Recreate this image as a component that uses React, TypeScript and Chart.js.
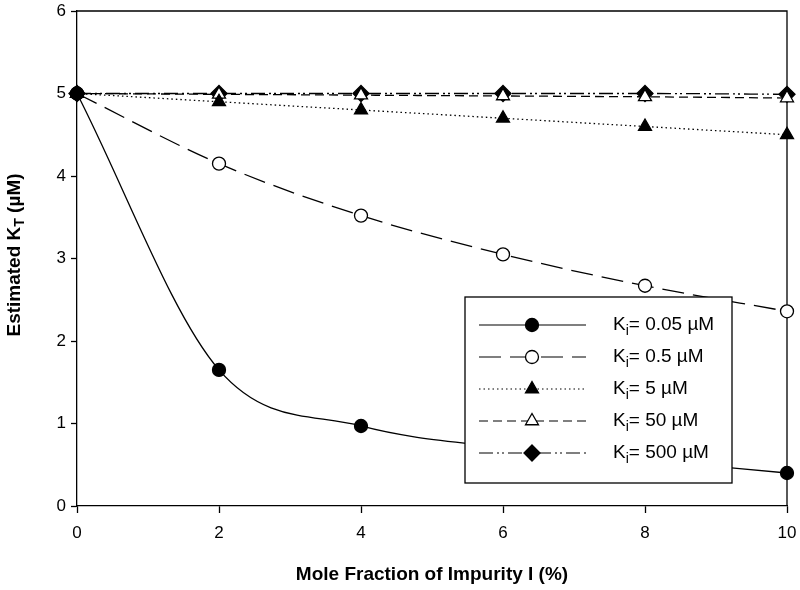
import React, { useEffect, useRef } from "react";
import { Chart, registerables } from "chart.js";

Chart.register(...registerables);

const xValues = [0, 2, 4, 6, 8, 10];
const ki005 = [5, 1.65, 0.97, 0.71, 0.56, 0.4];
const ki05 = [5, 4.15, 3.52, 3.05, 2.67, 2.36];
const ki5 = [5, 4.9, 4.8, 4.7, 4.6, 4.5];
const ki50 = [5, 4.99, 4.98, 4.97, 4.96, 4.945];
const ki500 = [5, 5, 5, 5, 5, 4.99];
const kiLabels = ["0.05", "0.5", "5", "50", "500"];
const xTicks = [0, 2, 4, 6, 8, 10];
const yTicks = [0, 1, 2, 3, 4, 5, 6];

const FONT = "'Liberation Sans', Arial, sans-serif";

type Marker = { style: string; fill: boolean; r: number; dash: number[] };
const markers: Marker[] = [
  { style: "circle", fill: true, r: 6.5, dash: [] },
  { style: "circle", fill: false, r: 6.5, dash: [22, 9] },
  { style: "triangle", fill: true, r: 7.5, dash: [1.5, 3] },
  { style: "triangle", fill: false, r: 7.5, dash: [9, 5] },
  { style: "rectRot", fill: true, r: 8, dash: [14, 4, 2, 3, 2, 4] },
];

function drawMarker(ctx: CanvasRenderingContext2D, m: Marker, x: number, y: number) {
  ctx.save();
  ctx.setLineDash([]);
  ctx.beginPath();
  const r = m.r;
  if (m.style === "circle") {
    ctx.arc(x, y, r, 0, Math.PI * 2);
  } else if (m.style === "triangle") {
    for (let i = 0; i < 3; i++) {
      const a = (i * 2 * Math.PI) / 3;
      const px = x + Math.sin(a) * r;
      const py = y - Math.cos(a) * r;
      if (i === 0) ctx.moveTo(px, py);
      else ctx.lineTo(px, py);
    }
  } else {
    ctx.moveTo(x, y - r);
    ctx.lineTo(x + r, y);
    ctx.lineTo(x, y + r);
    ctx.lineTo(x - r, y);
  }
  ctx.closePath();
  ctx.fillStyle = m.fill ? "#000" : "#fff";
  ctx.fill();
  ctx.lineWidth = 1.3;
  ctx.strokeStyle = "#000";
  ctx.stroke();
  ctx.restore();
}

const decorPlugin = {
  id: "decor",
  beforeDatasetsDraw(chart: any) {
    const { ctx, chartArea } = chart;
    ctx.save();
    ctx.strokeStyle = "#000";
    ctx.lineWidth = 1.3;
    ctx.beginPath();
    ctx.moveTo(chartArea.left, chartArea.top);
    ctx.lineTo(chartArea.right, chartArea.top);
    ctx.lineTo(chartArea.right, chartArea.bottom);
    ctx.stroke();
    ctx.restore();
  },
  afterDraw(chart: any) {
    const { ctx } = chart;
    // y-axis title with subscript
    ctx.save();
    ctx.translate(15, 255);
    ctx.rotate(-Math.PI / 2);
    ctx.fillStyle = "#000";
    ctx.textBaseline = "middle";
    const big = `bold 19px ${FONT}`;
    const small = `bold 14px ${FONT}`;
    const p1 = "Estimated K";
    const p2 = "T";
    const p3 = " (\u00B5M)";
    ctx.font = big;
    const w1 = ctx.measureText(p1).width;
    const w3 = ctx.measureText(p3).width;
    ctx.font = small;
    const w2 = ctx.measureText(p2).width;
    let x = -(w1 + w2 + w3) / 2;
    ctx.font = big;
    ctx.fillText(p1, x, 0);
    x += w1;
    ctx.font = small;
    ctx.fillText(p2, x, 5);
    x += w2;
    ctx.font = big;
    ctx.fillText(p3, x, 0);
    ctx.restore();

    // legend box
    const bx = 465, by = 297, bw = 267, bh = 186;
    ctx.save();
    ctx.fillStyle = "#fff";
    ctx.fillRect(bx, by, bw, bh);
    ctx.strokeStyle = "#000";
    ctx.lineWidth = 1.3;
    ctx.strokeRect(bx, by, bw, bh);
    const rowY = [325, 357, 389, 421, 453];
    kiLabels.forEach((lab, i) => {
      const m = markers[i];
      const y = rowY[i];
      ctx.save();
      ctx.strokeStyle = "#000";
      ctx.lineWidth = 1.2;
      ctx.setLineDash(m.dash);
      ctx.beginPath();
      ctx.moveTo(479, y);
      ctx.lineTo(586, y);
      ctx.stroke();
      ctx.restore();
      drawMarker(ctx, m, 532, y);
      ctx.fillStyle = "#000";
      ctx.textBaseline = "middle";
      let tx = 613;
      ctx.font = `19px ${FONT}`;
      ctx.fillText("K", tx, y);
      tx += ctx.measureText("K").width;
      ctx.font = `14px ${FONT}`;
      ctx.fillText("i", tx, y + 6);
      tx += ctx.measureText("i").width;
      ctx.font = `19px ${FONT}`;
      ctx.fillText(`= ${lab} \u00B5M`, tx, y);
    });
    ctx.restore();
  },
};

export default function App() {
  const ref = useRef<HTMLCanvasElement | null>(null);
  useEffect(() => {
    document.body.style.margin = "0";
    const canvas = ref.current;
    if (!canvas) return;
    const series = [ki005, ki05, ki5, ki50, ki500];
    const datasets = series.map((vals, i) => {
      const m = markers[i];
      return {
        label: `Ki= ${kiLabels[i]} \u00B5M`,
        data: vals.map((v, j) => ({ x: xValues[j], y: v })),
        borderColor: "#000",
        borderWidth: 1.3,
        borderDash: m.dash,
        pointStyle: m.style,
        pointRadius: m.r,
        pointHoverRadius: m.r,
        pointBackgroundColor: m.fill ? "#000" : "#fff",
        pointBorderColor: "#000",
        pointBorderWidth: 1.3,
        cubicInterpolationMode: "monotone" as const,
        fill: false,
        clip: false as any,
      };
    });
    const tickFont = { family: FONT, size: 17 };
    const chart = new Chart(canvas, {
      type: "line",
      data: { datasets },
      plugins: [decorPlugin],
      options: {
        animation: false,
        responsive: false,
        maintainAspectRatio: false,
        layout: { padding: { top: 11, right: 13, left: 0, bottom: 0 } },
        plugins: { legend: { display: false }, tooltip: { enabled: false } },
        scales: {
          x: {
            type: "linear",
            min: 0,
            max: 10,
            afterBuildTicks: (s: any) => {
              s.ticks = xTicks.map((v) => ({ value: v }));
            },
            ticks: { font: tickFont, color: "#000", padding: 10 },
            grid: { drawOnChartArea: false, tickLength: 7, color: "#000", tickWidth: 1.3 },
            border: { color: "#000", width: 1.3 },
            title: {
              display: true,
              text: "Mole Fraction of Impurity I (%)",
              font: { family: FONT, size: 19, weight: "bold" },
              color: "#000",
              padding: { top: 0, bottom: 4 },
            },
            afterFit: (s: any) => {
              s.height = 84;
              s.paddingLeft = 0;
              s.paddingRight = 0;
            },
          },
          y: {
            type: "linear",
            min: 0,
            max: 6,
            afterBuildTicks: (s: any) => {
              s.ticks = yTicks.map((v) => ({ value: v }));
            },
            ticks: { font: tickFont, color: "#000", padding: 5 },
            grid: { drawOnChartArea: false, tickLength: 6, color: "#000", tickWidth: 1.3 },
            border: { color: "#000", width: 1.3 },
            afterFit: (s: any) => {
              s.width = 77;
              s.paddingTop = 0;
              s.paddingBottom = 0;
            },
          },
        },
      } as any,
    });
    return () => chart.destroy();
  }, []);
  return (
    <div style={{ width: 800, height: 590 }}>
      <canvas ref={ref} width={800} height={590} style={{ display: "block" }} />
    </div>
  );
}
